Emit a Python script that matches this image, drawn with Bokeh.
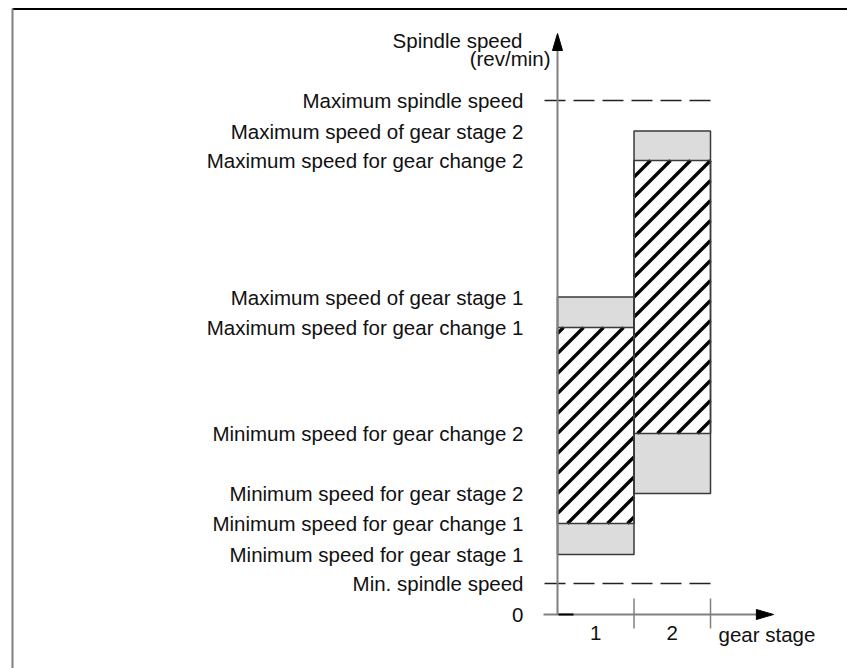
from bokeh.plotting import figure
from bokeh.models import ColumnDataSource, Range1d
from bokeh.core.properties import value
from bokeh.embed import file_html
from bokeh.resources import INLINE

# ---- data (speed in arbitrary units) ----
gear_stages = [1, 2]
stage_min = [60, 121]
stage_max = [317.5, 483.5]
change_min = [91, 181]
change_max = [287, 454]
min_spindle = 31
max_spindle = 514

level_labels = [
    "Maximum spindle speed",
    "Maximum speed of gear stage 2",
    "Maximum speed for gear change 2",
    "Maximum speed of gear stage 1",
    "Maximum speed for gear change 1",
    "Minimum speed for gear change 2",
    "Minimum speed for gear stage 2",
    "Minimum speed for gear change 1",
    "Minimum speed for gear stage 1",
    "Min. spindle speed",
    "0",
]
level_values = [514, 483.5, 454, 317.5, 287, 181, 121, 91, 60, 31, 0]
stage_tick_labels = ["1", "2"]

# ---- layout ----
W, H = 847, 668
PX = 76.5                      # pixels per gear-stage unit
X0 = -557 / PX
X1 = X0 + W / PX
Y1 = 614
Y0 = Y1 - H
FONT = value("Liberation Sans")
FS = "20.5px"
AXIS_TOP = 581
FRAME_X = (12 - 557) / PX
HATCH_STEP = 20                # px between hatch lines (horizontal)
HATCH_PHASE = 281

p = figure(width=W, height=H, x_range=Range1d(X0, X1), y_range=Range1d(Y0, Y1),
           output_backend="svg", toolbar_location=None, min_border=0,
           x_axis_type=None, y_axis_type=None, outline_line_color=None,
           background_fill_color="white", border_fill_color="white")

# frame lines (top & left)
p.segment(x0=[FRAME_X], y0=[Y1 - 8.5], x1=[X1], y1=[Y1 - 8.5],
          line_color="black", line_width=2)
p.segment(x0=[FRAME_X], y0=[Y1 - 8], x1=[FRAME_X], y1=[Y0],
          line_color="#808080", line_width=2)

# bars
lefts = [g - 1 for g in gear_stages]
rights = [g for g in gear_stages]
p.quad(left=lefts, right=rights, bottom=stage_min, top=stage_max,
       fill_color="#dcdcdc", line_color=None)
p.quad(left=lefts, right=rights, bottom=change_min, top=change_max,
       fill_color="white", line_color=None)

# 45-degree hatching of the gear-change ranges, clipped to each range
hx0, hy0, hx1, hy1 = [], [], [], []
for l, r, b, t in zip(lefts, rights, change_min, change_max):
    lp, rp = l * PX, r * PX
    c = HATCH_PHASE
    while c > b - rp:
        c -= HATCH_STEP
    while c < t - lp:
        xa = max(lp, b - c)
        xb = min(rp, t - c)
        if xb > xa:
            hx0.append(xa / PX); hy0.append(xa + c)
            hx1.append(xb / PX); hy1.append(xb + c)
        c += HATCH_STEP
p.segment(x0=hx0, y0=hy0, x1=hx1, y1=hy1, line_color="black", line_width=3.4)

p.quad(left=lefts, right=rights, bottom=stage_min, top=stage_max,
       fill_color=None, line_color="#3a3a3a", line_width=1.5)
p.quad(left=lefts, right=rights, bottom=change_min, top=change_max,
       fill_color=None, line_color="#3a3a3a", line_width=1.5)

# dashed limit lines
xs_dash = [-13 / PX, gear_stages[-1]]
for lv in (max_spindle, min_spindle):
    p.line(x=xs_dash, y=[lv, lv], line_color="#222222", line_width=1.3,
           line_dash="21 8")

# axes
p.line(x=[-14 / PX, 2.62], y=[0, 0], line_color="#808080", line_width=2)
p.line(x=[0, 0], y=[0, AXIS_TOP - 15], line_color="#808080", line_width=2)
p.segment(x0=[1 / PX], y0=[0], x1=[16 / PX], y1=[0], line_color="black", line_width=2)
p.patch(x=[2.60, 2.824, 2.60], y=[5, 0, -5], fill_color="black", line_color="black")
p.patch(x=[-5 / PX, 0, 5 / PX], y=[AXIS_TOP - 17, AXIS_TOP, AXIS_TOP - 17],
        fill_color="black", line_color="black")
p.segment(x0=gear_stages, y0=[16] * 2, x1=gear_stages, y1=[-14] * 2,
          line_color="#808080", line_width=1.5)

# level labels
src = ColumnDataSource(dict(x=[0] * len(level_values), y=level_values, t=level_labels))
p.text(x="x", y="y", text="t", source=src, x_offset=-34, text_align="right",
       text_baseline="middle", text_font=FONT, text_font_size=FS, text_color="#111111")

# axis titles
p.text(x=[0, 0], y=[574, 556], text=["Spindle speed", "(rev/min)"],
       x_offset=[-35, -7], text_align="right", text_baseline="middle",
       text_font=FONT, text_font_size=FS, text_color="#111111")
p.text(x=[g - 0.5 for g in gear_stages], y=[-18, -18], text=stage_tick_labels,
       text_align="center", text_baseline="middle", text_font=FONT,
       text_font_size=FS, text_color="#111111")
p.text(x=[gear_stages[-1]], y=[-20], text=["gear stage"], x_offset=8,
       text_align="left", text_baseline="middle", text_font=FONT,
       text_font_size=FS, text_color="#111111")

open("out.html", "w").write(file_html(p, INLINE))
